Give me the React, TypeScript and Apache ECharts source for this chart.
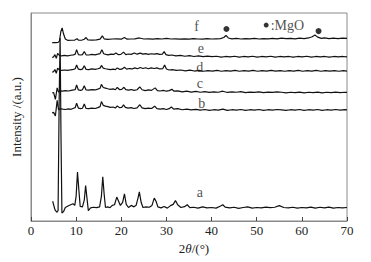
import React, { useEffect, useRef } from "react";
import * as echarts from "echarts";

const xTicks = { min: 0, max: 70, interval: 10 };

const curveA: number[][] = [
  [4.8, 9.5], [5.3, 5.5], [5.7, 4.2], [6.0, 5], [6.25, 60], [6.45, 88], [6.65, 40], [6.85, 3.8], [7.2, 4.5],
  [7.6, 6.5], [8.2, 7.2], [8.8, 7.8], [9.3, 8.3], [9.7, 7.5], [10.0, 12], [10.3, 23.5], [10.6, 15], [10.9, 7],
  [11.4, 6.8], [11.8, 10], [12.1, 17], [12.4, 11], [12.7, 5], [13.2, 6.3], [13.8, 6.6], [14.5, 6.4], [15.2, 6.8],
  [15.6, 12], [15.9, 21.3], [16.2, 13], [16.5, 6.5], [17.0, 6.8], [17.5, 6.4], [18.0, 7.5], [18.5, 7.8],
  [19.0, 11.5], [19.4, 9.5], [19.8, 7.5], [20.3, 9], [20.7, 13], [21.1, 8], [21.6, 6.5], [22.2, 7.5],
  [22.8, 6.8], [23.3, 7.6], [23.7, 11], [24.0, 14], [24.4, 9], [24.8, 6.5], [25.5, 6.8], [26.2, 6.6],
  [26.8, 7.5], [27.3, 11], [27.7, 9.5], [28.1, 6.8], [28.8, 6.3], [29.5, 7], [30.2, 6.2], [30.9, 7.4],
  [31.5, 8], [32.0, 9.8], [32.5, 7.8], [33.2, 6.5], [34.0, 6.9], [34.6, 7.8], [35.2, 6.4], [36, 6.6],
  [37, 6.2], [38, 6.8], [39, 6.3], [40, 6.5], [41, 6.2], [42, 7.2], [42.5, 7.8], [43, 6.7], [44, 6.3],
  [45, 6.6], [46, 6.1], [47, 6.5], [48, 6.8], [49, 6.2], [50, 6.5], [51, 6.3], [52, 6.7], [53, 6.4],
  [54, 6.6], [55, 7.4], [56, 6.5], [57, 6.3], [58, 6.6], [59, 6.2], [60, 6.5], [61, 6.3], [62, 6.7],
  [63, 6.2], [64, 6.6], [65, 6.3], [66, 6.7], [67, 6.2], [68, 6.5], [69, 6.3], [70, 6.5],
];

const curveB: number[][] = [
  [4.7, 52], [5.0, 52.3], [5.4, 50.5], [5.8, 58], [6.1, 53.5], [6.5, 54], [7.0, 53.8], [7.6, 53.6],
  [8.3, 53.9], [8.9, 53.7], [9.4, 54.2], [9.8, 54.5], [10.1, 56.6], [10.5, 54.3], [11.0, 54], [11.4, 54.2],
  [11.8, 56.2], [12.2, 54.1], [12.8, 54], [13.5, 54.3], [14.2, 54.1], [14.8, 54.5], [15.3, 55], [15.6, 57.4],
  [16.0, 55.6], [16.5, 55.2], [17.0, 55], [17.6, 54.6], [18.2, 54.8], [18.7, 54.3], [19.1, 55.3],
  [19.6, 54.5], [20.1, 54.6], [20.5, 55.8], [20.9, 54.6], [21.5, 54.3], [22.2, 54.5], [22.8, 54.1],
  [23.5, 54.4], [24.1, 55.9], [24.6, 54.4], [25.3, 54], [26, 54.3], [26.7, 54.1], [27.4, 55.2], [27.9, 54],
  [28.6, 53.8], [29.3, 54], [30, 53.6], [30.6, 54], [31.1, 54.8], [31.6, 53.8], [32.5, 54], [33.5, 53.5],
  [34.5, 53.8], [35.5, 53.4], [36.5, 53.7], [37.5, 53.3], [38.5, 53.6], [39.5, 53.2], [40.5, 53.5],
  [41.5, 53.3], [42.5, 53.8], [43.5, 53.2], [44.5, 53.5], [45.5, 53.3], [46.5, 53.6], [47.5, 53.2],
  [48.5, 53.5], [49.5, 53.3], [50.5, 53.6], [51.5, 53.2], [52.5, 53.5], [53.5, 53.3], [54.5, 53.6],
  [55.5, 53.4], [56.5, 53.2], [57.5, 53.5], [58.5, 53.3], [59.5, 53.6], [60.5, 53.2], [61.5, 53.5],
  [62.5, 53.3], [63.5, 53.6], [64.5, 53.2], [65.5, 53.5], [66.5, 53.3], [67.5, 53.6], [68.5, 53.3],
  [69.5, 53.5], [70, 53.4],
];

const curveC: number[][] = [
  [4.7, 61.5], [5.0, 61.8], [5.4, 58.5], [5.8, 64], [6.1, 62], [6.5, 62.6], [7.0, 62.4], [7.6, 62.7],
  [8.3, 62.5], [8.9, 62.8], [9.4, 63], [9.8, 63.2], [10.1, 65.4], [10.5, 63], [11.0, 62.8], [11.4, 63.1],
  [11.8, 65], [12.2, 63], [12.8, 62.9], [13.5, 63.2], [14.2, 63], [14.8, 63.4], [15.3, 63.8], [15.6, 65.7],
  [16.0, 64.2], [16.5, 63.9], [17.0, 63.6], [17.6, 63.3], [18.2, 63.5], [18.7, 63.1], [19.1, 64.2],
  [19.6, 63.2], [20.1, 63.3], [20.6, 64.3], [21.0, 63.2], [21.6, 62.9], [22.2, 63.2], [22.8, 62.8],
  [23.5, 63.1], [24.1, 64.5], [24.6, 63.1], [25.3, 62.7], [26, 63], [26.7, 62.8], [27.5, 64], [28.0, 62.7],
  [28.6, 62.5], [29.3, 62.8], [30, 62.4], [30.6, 62.7], [31.2, 63.3], [31.7, 62.4], [32.5, 62.6],
  [33.5, 62.1], [34.5, 62.4], [35.5, 62], [36.5, 62.3], [37.5, 61.9], [38.5, 62.2], [39.5, 61.8],
  [40.5, 62.1], [41.5, 61.9], [42.5, 62.4], [43.5, 61.8], [44.5, 62.1], [45.5, 61.9], [46.5, 62.2],
  [47.5, 61.7], [48.5, 62], [49.5, 61.8], [50.5, 62.1], [51.5, 61.7], [52.5, 62], [53.5, 61.8],
  [54.5, 62.1], [55.5, 61.9], [56.5, 61.6], [57.5, 61.9], [58.5, 61.7], [59.5, 62], [60.5, 61.6],
  [61.5, 61.9], [62.5, 61.7], [63.5, 62], [64.5, 61.6], [65.5, 61.9], [66.5, 61.7], [67.5, 62],
  [68.5, 61.7], [69.5, 61.9], [70, 61.8],
];

const curveD: number[][] = [
  [4.7, 71.5], [5.0, 71.8], [5.3, 72.8], [5.6, 71], [5.9, 73.5], [6.3, 72.6], [6.8, 72.4], [7.4, 72.6],
  [8.1, 72.4], [8.8, 72.7], [9.4, 72.9], [9.8, 73.2], [10.1, 75], [10.5, 73], [11.0, 72.8], [11.4, 73],
  [11.8, 74.6], [12.2, 72.9], [12.8, 72.8], [13.5, 73.1], [14.2, 72.9], [14.8, 73.2], [15.3, 73.5],
  [15.6, 74.8], [16.0, 73.5], [16.5, 73.2], [17.0, 73], [17.6, 72.8], [18.2, 73], [18.7, 72.8], [19.1, 73.6],
  [19.6, 72.9], [20.1, 73], [20.7, 73.9], [21.2, 73], [21.8, 73.3], [22.4, 73.1], [23.0, 73.6], [23.6, 73.2],
  [24.2, 73.8], [24.8, 73.3], [25.4, 73.7], [26, 73.2], [26.6, 73.6], [27.3, 73.3], [27.9, 73.6],
  [28.5, 73.1], [29.2, 73.3], [29.6, 75], [30.0, 73.1], [30.6, 72.6], [31.3, 72.8], [32.2, 72.4],
  [33.2, 72.6], [34.2, 72.2], [35.2, 72.5], [36.2, 72.1], [37.2, 72.4], [38.2, 72], [39.2, 72.3],
  [40.2, 72.1], [41.2, 72.4], [42.2, 72], [43.2, 72.3], [44.2, 72.1], [45.2, 72.4], [46.2, 72],
  [47.2, 72.3], [48.2, 72.1], [49.2, 72.4], [50.2, 72], [51.2, 72.3], [52.2, 72.1], [53.2, 72.4],
  [54.2, 72.1], [55.2, 72.3], [56.2, 72], [57.2, 72.3], [58.2, 72.1], [59.2, 72.4], [60.2, 72],
  [61.2, 72.3], [62.2, 72.1], [63.2, 72.4], [64.2, 72], [65.2, 72.3], [66.2, 72.1], [67.2, 72.3],
  [68.2, 72], [69.2, 72.3], [70, 72.1],
];

const curveE: number[][] = [
  [4.7, 78.6], [5.0, 78.9], [5.3, 80], [5.6, 78.2], [5.9, 80.6], [6.3, 79.6], [6.8, 79.4], [7.4, 79.6],
  [8.1, 79.4], [8.8, 79.7], [9.4, 79.9], [9.8, 80.2], [10.1, 82.4], [10.5, 80], [11.0, 79.8], [11.4, 80],
  [11.8, 81.5], [12.2, 79.9], [12.8, 79.8], [13.5, 80.1], [14.2, 79.9], [14.8, 80.2], [15.3, 80.5],
  [15.7, 82.3], [16.1, 80.4], [16.6, 80.1], [17.1, 79.9], [17.7, 80.2], [18.3, 80.1], [18.8, 80.8],
  [19.3, 80], [19.9, 80.1], [20.5, 81.2], [21.0, 80], [21.6, 80.3], [22.2, 80.1], [22.9, 80.8],
  [23.5, 80.2], [24.2, 80.7], [24.8, 80.2], [25.4, 80.5], [26, 80.1], [26.6, 80.4], [27.3, 80.2],
  [27.9, 80.5], [28.5, 80.1], [29.1, 80.2], [29.5, 81.4], [29.9, 80], [30.5, 79.6], [31.2, 79.8],
  [32.1, 79.4], [33.1, 79.6], [34.1, 79.2], [35.1, 79.5], [36.1, 79.1], [37.1, 79.4], [38.1, 79],
  [39.1, 79.3], [40.1, 79], [41.1, 79.2], [42.1, 78.8], [43.1, 79.1], [44.1, 78.9], [45.1, 79.2],
  [46.1, 78.8], [47.1, 79.1], [48.1, 78.9], [49.1, 79.2], [50.1, 78.8], [51.1, 79.1], [52.1, 78.9],
  [53.1, 79.2], [54.1, 78.8], [55.1, 79.1], [56.1, 78.9], [57.1, 79.1], [58.1, 78.8], [59.1, 79.1],
  [60.1, 78.9], [61.1, 79.2], [62.1, 78.8], [63.1, 79.1], [64.1, 78.9], [65.1, 79.1], [66.1, 78.8],
  [67.1, 79.1], [68.1, 78.9], [69.1, 79.1], [70, 78.9],
];

const curveF: number[][] = [
  [4.7, 85.8], [5.5, 85.8], [6.0, 85.9], [6.3, 86.5], [6.6, 91], [6.9, 92.8], [7.2, 90], [7.6, 87.5],
  [8.2, 86.8], [9, 86.9], [9.7, 87], [10.2, 87.6], [10.5, 87], [11.2, 86.9], [11.8, 87.4], [12.2, 88.2],
  [12.6, 87.1], [13.5, 87], [14.5, 87.1], [15.3, 87.4], [15.8, 89], [16.2, 87.6], [17, 87.3], [18, 87.5],
  [19, 87.6], [20, 87.4], [20.7, 88.2], [21.3, 87.4], [22, 87.5], [23, 87.6], [24, 88], [25, 87.5],
  [26, 87.6], [27, 87.4], [28, 87.7], [29, 87.5], [30, 87.8], [31, 87.5], [32, 87.6], [33, 87.4],
  [34, 87.6], [35, 87.4], [36, 87.7], [37, 87.5], [38, 87.4], [39, 87.7], [40, 87.5], [41, 87.6],
  [42, 87.7], [42.7, 88.2], [43.2, 89.2], [43.7, 88], [44.5, 87.6], [45.5, 87.8], [46.5, 87.5],
  [47.5, 87.7], [48.5, 87.6], [49.5, 87.8], [50.5, 87.5], [51.5, 87.7], [52.5, 87.6], [53.5, 87.8],
  [54.5, 87.6], [55.5, 87.9], [56.5, 87.7], [57.5, 87.8], [58.5, 87.6], [59.5, 87.9], [60.5, 87.7],
  [61.5, 88], [62.3, 88.6], [62.9, 89.4], [63.5, 88.4], [64.3, 87.8], [65, 88], [66, 87.7], [67, 87.9],
  [68, 87.7], [69, 87.9], [70, 87.8],
];

const curveLabels: (number | string)[][] = [
  [36.7, 93.3, "f"],
  [37.6, 82.7, "e"],
  [37.4, 74.0, "d"],
  [37.4, 66.3, "c"],
  [37.8, 56.7, "b"],
  [37.4, 13.9, "a"],
];

const mgoPeaks: number[][] = [
  [43.3, 92.3],
  [63.7, 91.3],
];

const mgoLegend: (number | string)[][] = [[52.1, 94.2, ":MgO"]];

const FONT = "'Liberation Serif', 'Times New Roman', Times, serif";

export default function App() {
  const ref = useRef<HTMLDivElement>(null);
  useEffect(() => {
    if (!ref.current) return;
    const chart = echarts.init(ref.current, null, { renderer: "svg" });
    const lineSeries = [curveA, curveB, curveC, curveD, curveE, curveF].map((d) => ({
      type: "line",
      data: d,
      showSymbol: false,
      symbol: "none",
      lineStyle: { color: "#111", width: 1.2 },
      silent: true,
      z: 2,
    }));
    chart.setOption({
      animation: false,
      grid: {
        left: 31,
        right: 24,
        top: 13,
        bottom: 41,
        show: true,
        borderColor: "#8a8a8a",
        borderWidth: 1,
      },
      xAxis: {
        type: "value",
        min: xTicks.min,
        max: xTicks.max,
        interval: xTicks.interval,
        axisLine: { show: true, lineStyle: { color: "#8a8a8a" } },
        axisTick: { show: true, inside: true, length: 4, lineStyle: { color: "#444" } },
        splitLine: { show: false },
        axisLabel: { color: "#222", fontFamily: FONT, fontSize: 13, margin: 3 },
        name: "{r|2}{i|θ}{r|/(°)}",
        nameLocation: "middle",
        nameGap: 16,
        nameTextStyle: {
          padding: [0, 0, 0, 10],
          rich: {
            r: { fontFamily: FONT, fontSize: 13, color: "#222" },
            i: { fontFamily: FONT, fontSize: 13, color: "#222", fontStyle: "italic" },
          },
        },
      },
      yAxis: {
        type: "value",
        min: 0,
        max: 100,
        axisLine: { show: true, lineStyle: { color: "#8a8a8a" } },
        axisTick: { show: false },
        axisLabel: { show: false },
        splitLine: { show: false },
        name: "Intensity /(a.u.)",
        nameLocation: "middle",
        nameGap: 8,
        nameTextStyle: { fontFamily: FONT, fontSize: 13, color: "#222" },
      },
      series: [
        ...lineSeries,
        {
          type: "scatter",
          data: curveLabels,
          symbolSize: 1,
          itemStyle: { color: "rgba(0,0,0,0)" },
          label: {
            show: true,
            position: "inside",
            formatter: (p: any) => p.data[2],
            fontFamily: FONT,
            fontSize: 14,
            color: "#222",
          },
          silent: true,
          z: 3,
        },
        {
          type: "scatter",
          data: mgoPeaks,
          symbol: "circle",
          symbolSize: 6,
          itemStyle: { color: "#000" },
          silent: true,
          z: 3,
        },
        {
          type: "scatter",
          data: mgoLegend,
          symbol: "circle",
          symbolSize: 5,
          itemStyle: { color: "#000" },
          label: {
            show: true,
            position: "right",
            distance: 2,
            formatter: (p: any) => p.data[2],
            fontFamily: FONT,
            fontSize: 14,
            color: "#222",
          },
          silent: true,
          z: 3,
        },
      ],
    });
    return () => chart.dispose();
  }, []);
  return <div ref={ref} style={{ width: 371, height: 262, position: "absolute", left: 0, top: 0 }} />;
}
